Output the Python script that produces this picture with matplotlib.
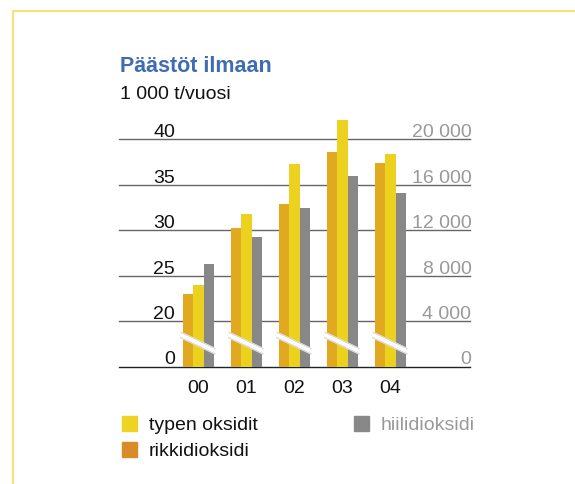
import matplotlib
matplotlib.use("Agg")
import matplotlib.pyplot as plt
from matplotlib.patches import Rectangle
from matplotlib.lines import Line2D

plt.rcParams['font.family'] = ['Liberation Sans', 'DejaVu Sans']

# emissions per year, 1000 t/year (CO2 on right scale in 1000 t)
years = ['00', '01', '02', '03', '04']
typen_oksidit = [24.0, 31.8, 37.3, 42.1, 38.4]
rikkidioksidi = [23.0, 30.3, 32.9, 38.6, 37.4]
hiilidioksidi = [9000, 11400, 14000, 16800, 15300]

left_ticks = [0, 20, 25, 30, 35, 40]
right_ticks = ['0', '4 000', '8 000', '12 000', '16 000', '20 000']

C_ORANGE = '#E0A920'
C_YELLOW = '#EDD11F'
C_GRAY = '#888888'
C_ORANGE_KEY = '#D98A2A'
C_YELLOW_KEY = '#EED422'

W, H = 575, 484


def left_pos(v):
    # broken axis: 0..20 compressed into one step, then 5 per step
    return v / 20.0 if v <= 20 else 1 + (v - 20) / 5.0


def right_pos(v):
    return v / 4000.0


def fx(px):
    return px / W


def fy(py):
    return 1 - py / H


fig = plt.figure(figsize=(5.75, 4.84), dpi=100)
ax = fig.add_axes([fx(119), fy(366.7), (470 - 119) / W, 5.6 * 45.45 / H])
ax.set_xlim(-1.654, 5.658)
ax.set_ylim(0, 5.6)
ax.axis('off')

# grid lines with labels sitting on top
for i, (lt, rt) in enumerate(zip(left_ticks, right_ticks)):
    ax.axhline(i, color='#222222' if i == 0 else '#666666', lw=1.0,
               zorder=1, clip_on=False)
    ax.text(0.1595, i + 0.05, str(lt), transform=ax.get_yaxis_transform(),
            ha='right', va='baseline', fontsize=14, color='#111111')
    ax.text(1.004, i + 0.05, rt, transform=ax.get_yaxis_transform(),
            ha='right', va='baseline', fontsize=14, color='#999999')

bw = 0.219
xs = list(range(len(years)))
ax.bar([x - bw for x in xs], [left_pos(v) for v in rikkidioksidi], bw,
       color=C_ORANGE, zorder=2)
ax.bar(xs, [left_pos(v) for v in typen_oksidit], bw, color=C_YELLOW, zorder=2)
ax.bar([x + bw for x in xs], [right_pos(v) for v in hiilidioksidi], bw,
       color=C_GRAY, zorder=2)

# axis break marks across each group
for x in xs:
    x0, x1 = x - 0.37, x + 0.35
    y0, y1 = 0.70, 0.34
    h = 0.06
    ax.fill([x0, x1, x1, x0], [y0 + h, y1 + h, y1 - h, y0 - h],
            color='white', zorder=3, clip_on=False)
    ax.plot([x0, x1], [y0 + h, y1 + h], color='#c8c8c8', lw=0.6, zorder=4)
    ax.plot([x0, x1], [y0 - h, y1 - h], color='#c8c8c8', lw=0.6, zorder=4)

for x, yr in zip(xs, years):
    ax.text(x, -0.58, yr, ha='center', va='baseline', fontsize=14,
            color='#111111')

# titles
fig.text(fx(120), fy(72.3), 'Päästöt ilmaan', fontsize=15.5,
         fontweight='bold', color='#3F6DB3', va='baseline')
fig.text(fx(120), fy(99.3), '1 000 t/vuosi', fontsize=14, color='#111111',
         va='baseline')

# legend
keys = [
    (122, 415.7, C_YELLOW_KEY, 'typen oksidit', '#111111'),
    (122, 441.7, C_ORANGE_KEY, 'rikkidioksidi', '#111111'),
    (354, 415.7, C_GRAY, 'hiilidioksidi', '#999999'),
]
for kx, ky, col, label, tcol in keys:
    fig.add_artist(Rectangle((fx(kx), fy(ky + 15.3)), 15.3 / W, 15.3 / H,
                             transform=fig.transFigure, color=col))
    fig.text(fx(kx + 26.7), fy(ky + 14.5), label, fontsize=14, color=tcol,
             va='baseline')

# yellow frame
fig.add_artist(Line2D([fx(12.7), fx(12.7), fx(575)], [0, fy(10.7), fy(10.7)],
                      transform=fig.transFigure, color='#F5E07A', lw=1.5))

fig.savefig('out.png', dpi=100)
plt.close(fig)
